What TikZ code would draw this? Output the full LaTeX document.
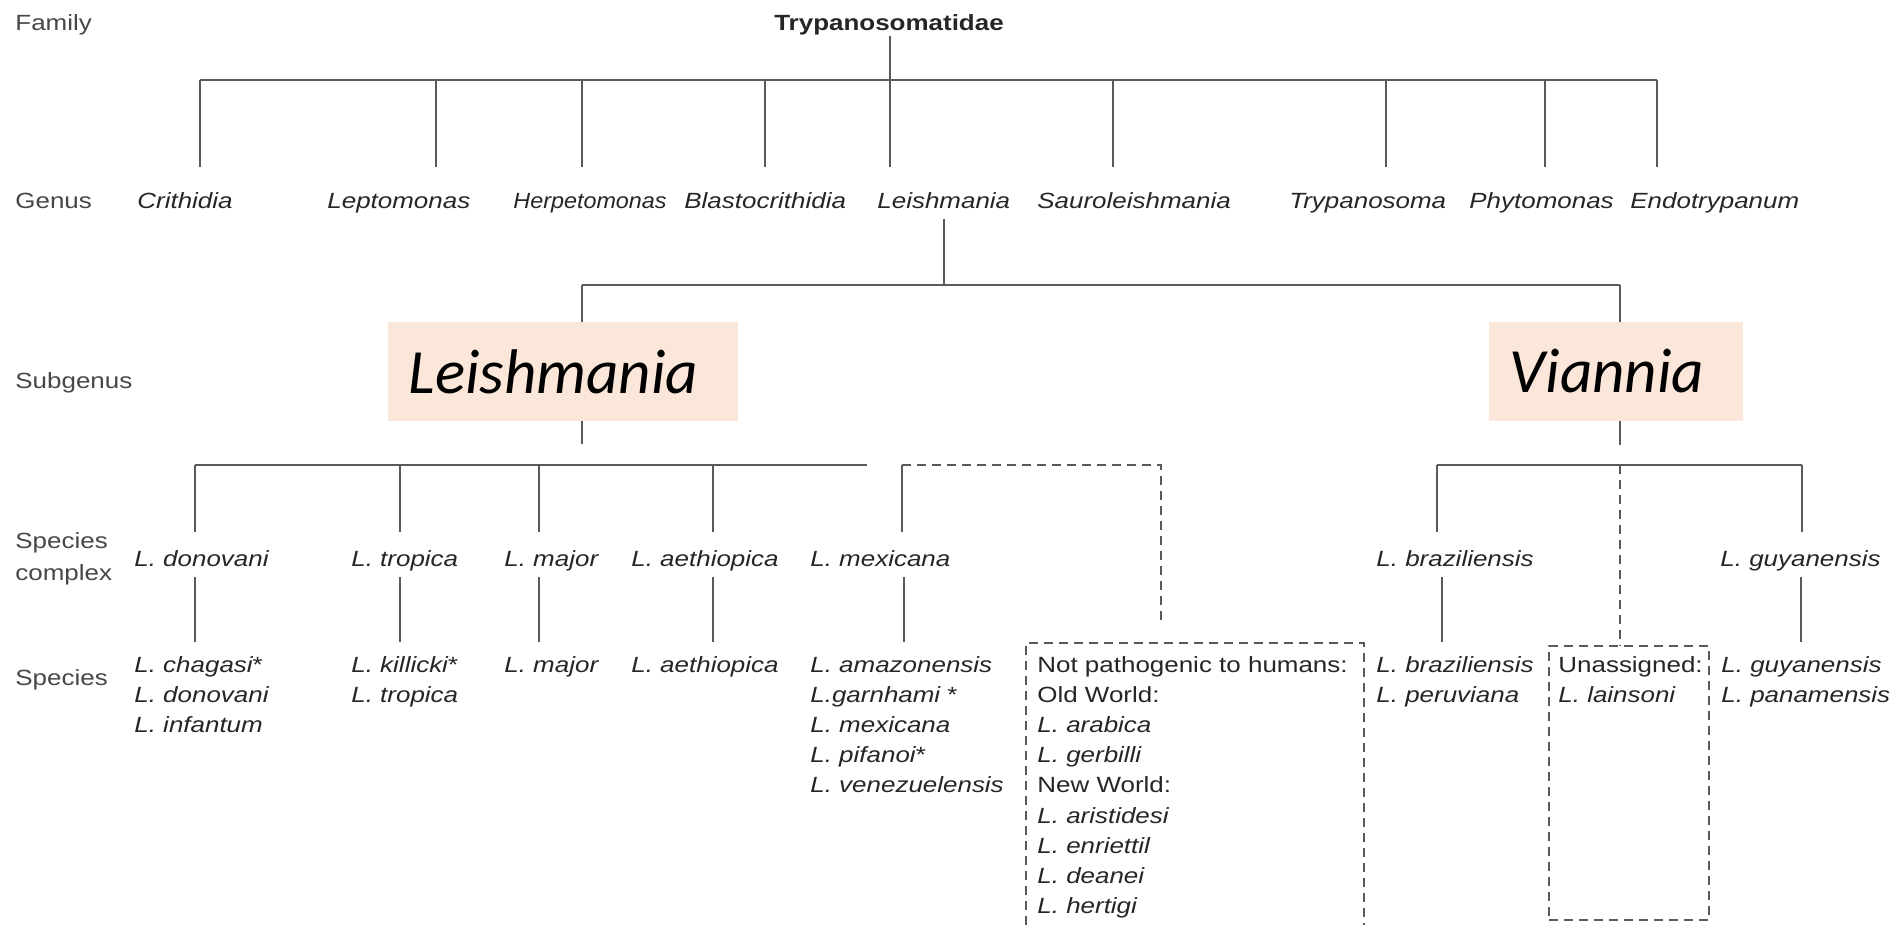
\documentclass[tikz,border=0pt]{standalone}
\usepackage{fontspec}
\setmainfont{Liberation Sans}[FakeStretch=1.18]
\newfontfamily\calib{Carlito}
\definecolor{lnc}{HTML}{5A5A5A}
\definecolor{txc}{HTML}{262626}
\definecolor{boxc}{HTML}{FBE7D9}
\begin{document}
\begin{tikzpicture}[x=0.5pt,y=-0.5pt,
  txt/.style={anchor=base west, inner sep=0pt, text=txc, font=\fontsize{11}{13}\selectfont},
  it/.style={txt, font=\fontsize{11}{13}\selectfont\itshape},
  lvl/.style={txt, text=txc!85},
  ln/.style={draw=lnc, line width=1pt},
  dln/.style={draw=lnc, line width=0.85pt, dash pattern=on 4.5pt off 3pt},
  subbox/.style={fill=boxc, inner sep=0pt, minimum height=49.5pt, font=\calib\fontsize{31.5}{36}\selectfont\itshape, text=black},
  dbox/.style={dln, inner sep=0pt}
]
\useasboundingbox (0,0) rectangle (1897,925);
\fill[white] (0,0) rectangle (1897,925);

% level labels
\node[lvl] (lFam) at (15,31) {Family};
\node[lvl] (lGen) at (15,209) {Genus};
\node[lvl] (lSub) at (15,388) {Subgenus};
\node[lvl] (lSc1) at (15,548) {Species};
\node[lvl] (lSc2) at (15,580) {complex};
\node[lvl] (lSp) at (15,685) {Species};

% family
\node[txt, anchor=base, font=\fontsize{11}{13}\selectfont\bfseries] (T) at (889,31) {Trypanosomatidae};

% genus
\node[it] (gCri) at (137,209) {Crithidia};
\node[it] (gLep) at (327,209) {Leptomonas};
\node[it] (gHer) at (513,209) {\scalebox{0.9}[1]{Herpetomonas}};
\node[it] (gBla) at (684,209) {Blastocrithidia};
\node[it] (gLei) at (877,209) {Leishmania};
\node[it] (gSau) at (1037,209) {Sauroleishmania};
\node[it] (gTry) at (1289,209) {Trypanosoma};
\node[it] (gPhy) at (1469,209) {Phytomonas};
\node[it] (gEnd) at (1630,209) {Endotrypanum};

\coordinate (b0) at (0,80);
\coordinate (gk1) at (200,167);
\coordinate (gk2) at (436,167);
\coordinate (gk3) at (582,167);
\coordinate (gk4) at (765,167);
\coordinate (gk5) at (890,167);
\coordinate (gk6) at (1113,167);
\coordinate (gk7) at (1386,167);
\coordinate (gk8) at (1545,167);
\coordinate (gk9) at (1657,167);
\draw[ln] (gk5 |- T.south) -- (gk5);
\draw[ln] (gk1 |- b0) -- (gk9 |- b0);
\foreach \k in {1,2,3,4,6,7,8,9} \draw[ln] (gk\k |- b0) -- (gk\k);

% subgenus
\node[subbox, minimum width=175pt] (bL) at (563,371.5) {Leishmania\hspace*{9.5pt}};
\node[subbox, minimum width=127pt] (bV) at (1616,371.5) {Viannia\hspace*{9pt}};
\coordinate (sb) at (0,285);
\coordinate (jL) at (582,285);
\coordinate (jV) at (1620,285);
\coordinate (eL) at (582,444);
\coordinate (eV) at (1620,445);
\draw[ln, shorten <=4.5pt] (gLei.south) -- (gLei.south |- sb);
\draw[ln] (jL) -- (jV);
\draw[ln] (jL) -- (jL |- bL.north);
\draw[ln] (jV) -- (jV |- bV.north);
\draw[ln] (eL |- bL.south) -- (eL);
\draw[ln] (eV |- bV.south) -- (eV);

% species complexes
\node[it] (cDon) at (134,566) {L. donovani};
\node[it] (cTro) at (351,566) {L. tropica};
\node[it] (cMaj) at (504,566) {L. major};
\node[it] (cAet) at (631,566) {L. aethiopica};
\node[it] (cMex) at (810,566) {L. mexicana};
\node[it] (cBra) at (1376,566) {L. braziliensis};
\node[it] (cGuy) at (1720,566) {L. guyanensis};

\coordinate (cb) at (0,465);
\coordinate (cbEnd) at (867,465);
\coordinate (c1) at (195,532);
\coordinate (c2) at (400,532);
\coordinate (c3) at (539,532);
\coordinate (c4) at (713,532);
\coordinate (c5) at (902,532);
\coordinate (c6) at (1437,532);
\coordinate (c7) at (1802,532);
\coordinate (dn) at (1161,623);
\draw[ln] (c1 |- cb) -- (cbEnd);
\foreach \k in {1,2,3,4,5,6,7} \draw[ln] (c\k |- cb) -- (c\k);
\draw[dln] (c5 |- cb) -| (dn);
\draw[ln] (c6 |- cb) -- (c7 |- cb);

% complex -> species
\coordinate (cs) at (0,577);
\coordinate (s1) at (195,642);
\coordinate (s2) at (400,642);
\coordinate (s3) at (539,642);
\coordinate (s4) at (713,642);
\coordinate (s5) at (904,642);
\coordinate (s6) at (1442,642);
\coordinate (s7) at (1801,642);
\foreach \k in {1,...,7} \draw[ln] (s\k |- cs) -- (s\k);

% dashed boxes
\coordinate (np1) at (1026,925);
\coordinate (np2) at (1364,925);
\draw[dln] (np1) -- (1026,643) -- (1364,643) -- (np2);
\node[dbox, draw, minimum width=80pt, minimum height=137pt] (ua) at (1629,783) {};
\draw[dln] (1620,465) -- (ua.north -| 1620,0);

% species
\node[it] (d1) at (134,672) {L. chagasi\upshape*};
\node[it] (d2) at (134,702.2) {L. donovani};
\node[it] (d3) at (134,732.4) {L. infantum};
\node[it] (t1) at (351,672) {L. killicki\upshape*};
\node[it] (t2) at (351,702.2) {L. tropica};
\node[it] (m1) at (504,672) {L. major};
\node[it] (a1) at (631,672) {L. aethiopica};
\node[it] (x1) at (810,672) {L. amazonensis};
\node[it] (x2) at (810,702.2) {L.garnhami \upshape*};
\node[it] (x3) at (810,732.4) {L. mexicana};
\node[it] (x4) at (810,762.6) {L. pifanoi\upshape*};
\node[it] (x5) at (810,792.8) {L. venezuelensis};
\node[txt] (n1) at (1037,672) {Not pathogenic to humans:};
\node[txt] (n2) at (1037,702.2) {Old World:};
\node[it] (n3) at (1037,732.4) {L. arabica};
\node[it] (n4) at (1037,762.6) {L. gerbilli};
\node[txt] (n5) at (1037,792.8) {New World:};
\node[it] (n6) at (1037,823) {L. aristidesi};
\node[it] (n7) at (1037,853.2) {L. enriettil};
\node[it] (n8) at (1037,883.4) {L. deanei};
\node[it] (n9) at (1037,913.6) {L. hertigi};
\node[it] (r1) at (1376,672) {L. braziliensis};
\node[it] (r2) at (1376,702.2) {L. peruviana};
\node[txt] (u1) at (1558,672) {Unassigned:};
\node[it] (u2) at (1558,702.2) {L. lainsoni};
\node[it] (y1) at (1721,672) {L. guyanensis};
\node[it] (y2) at (1721,702.2) {L. panamensis};
\end{tikzpicture}
\end{document}
